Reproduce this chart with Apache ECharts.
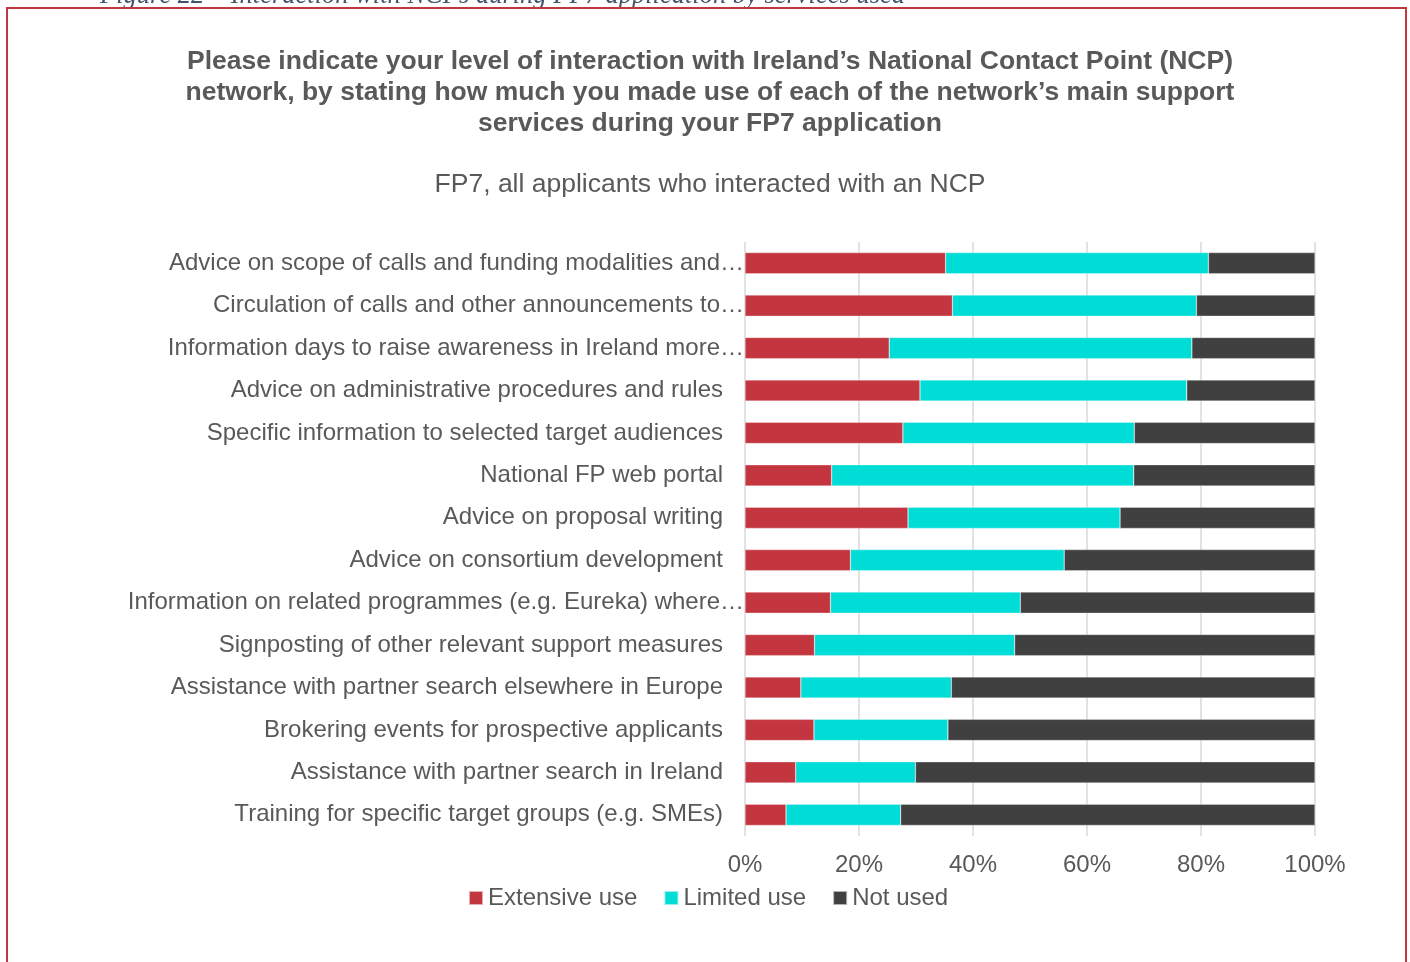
<!DOCTYPE html>
<html>
<head>
<meta charset="utf-8">
<script src="https://cdn.jsdelivr.net/npm/echarts@6/dist/echarts.min.js"></script>
<style>
  * { margin: 0; padding: 0; }
  body { background: #fff; }
</style>
</head>
<body>
<div id="main" style="width:1410px;height:962px;"></div>
<script>
  // categories, top to bottom as drawn
  var categories = [
    'Advice on scope of calls and funding modalities and\u2026',
    'Circulation of calls and other announcements to\u2026',
    'Information days to raise awareness in Ireland more\u2026',
    'Advice on administrative procedures and rules',
    'Specific information to selected target audiences',
    'National FP web portal',
    'Advice on proposal writing',
    'Advice on consortium development',
    'Information on related programmes (e.g. Eureka) where\u2026',
    'Signposting of other relevant support measures',
    'Assistance with partner search elsewhere in Europe',
    'Brokering events for prospective applicants',
    'Assistance with partner search in Ireland',
    'Training for specific target groups (e.g. SMEs)'
  ];
  // shares in %
  var extensiveUse = [35.2, 36.4, 25.3, 30.7, 27.7, 15.2, 28.6, 18.5, 15.0, 12.2, 9.8, 12.1, 8.9, 7.2];
  var limitedUse   = [46.1, 42.8, 53.1, 46.8, 40.6, 53.0, 37.2, 37.5, 33.3, 35.1, 26.4, 23.5, 21.0, 20.1];
  var notUsed      = [18.7, 20.8, 21.6, 22.5, 31.7, 31.8, 34.2, 44.0, 51.7, 52.7, 63.8, 64.4, 70.1, 72.7];

  var chart = echarts.init(document.getElementById('main'));
  var txt = '#595959';

  function bar(name, data, color) {
    return {
      name: name,
      type: 'bar',
      stack: 'total',
      barCategoryGap: '50%',
      data: data,
      itemStyle: { color: color, borderColor: 'rgba(255,255,255,0.6)', borderWidth: 0.5 }
    };
  }

  chart.setOption({
    animation: false,
    textStyle: { fontFamily: 'Liberation Sans, Arial, sans-serif' },
    title: [{
      text: 'Please indicate your level of interaction with Ireland\u2019s National Contact Point (NCP)\nnetwork, by stating how much you made use of each of the network\u2019s main support\nservices during your FP7 application',
      left: 705, top: 41, textAlign: 'center',
      textStyle: { fontSize: 26.5, fontWeight: 'bold', color: txt, lineHeight: 31 }
    }, {
      text: 'FP7, all applicants who interacted with an NCP',
      left: 705, top: 166, textAlign: 'center',
      textStyle: { fontSize: 26.5, fontWeight: 'normal', color: txt }
    }],
    graphic: [{
      type: 'text', left: 100, top: -17,
      style: {
        text: 'Figure 22 \u2013 Interaction with NCPs during FP7 application by services used',
        font: 'italic 26.5px "Liberation Serif", "DejaVu Serif", serif',
        fill: '#44546A'
      }
    }, {
      type: 'rect', shape: { x: 7, y: 8, width: 1399, height: 980 },
      style: { fill: 'none', stroke: '#C4363F', lineWidth: 2 }
    }],
    legend: {
      bottom: 47, left: 463, itemWidth: 14, itemHeight: 14, itemGap: 26,
      icon: 'rect',
      textStyle: { fontSize: 24, color: txt },
      data: ['Extensive use', 'Limited use', 'Not used']
    },
    grid: { left: 745, right: 95, top: 242, bottom: 126 },
    xAxis: {
      type: 'value', min: 0, max: 100, interval: 20,
      axisLine: { show: false }, axisTick: { show: false },
      splitLine: { lineStyle: { color: '#D9D9D9', width: 1.5 } },
      axisLabel: { formatter: '{value}%', fontSize: 24, color: txt, margin: 17 }
    },
    yAxis: {
      type: 'category', inverse: true, data: categories,
      axisLine: { show: false }, axisTick: { show: false },
      axisLabel: {
        fontSize: 24, color: txt, margin: 1,
        formatter: function (v) {
          return v.slice(-1) === '\u2026' ? '{t|' + v + '}' : '{t|' + v + '}{s| }';
        },
        rich: { t: { fontSize: 24, color: txt }, s: { width: 21 } }
      }
    },
    series: [
      bar('Extensive use', extensiveUse, '#C4363F'),
      bar('Limited use', limitedUse, '#00DCD6'),
      bar('Not used', notUsed, '#404040')
    ]
  });
</script>
</body>
</html>
